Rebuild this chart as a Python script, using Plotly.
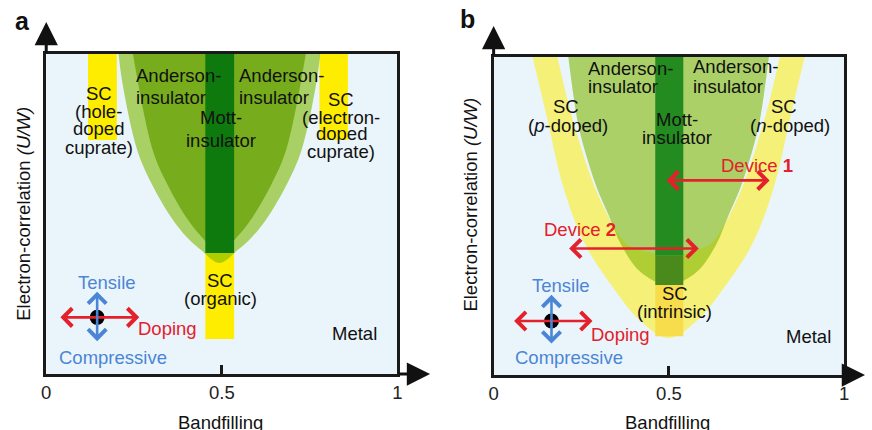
import plotly.graph_objects as go

# ---------------- panel a : bandfilling / U-W phase regions ----------------
a_center = 0.493
# outer (light green) and inner (green) Anderson-insulator dome: U/W level vs half width
a_outer_u = [1.0, 0.909, 0.70, 0.597, 0.491, 0.428, 0.388, 0.347]
a_outer_hw = [0.287, 0.276, 0.234, 0.194, 0.138, 0.093, 0.053, 0.0]
a_inner_u = [1.0, 0.70, 0.597, 0.491, 0.428, 0.378]
a_inner_hw = [0.246, 0.19, 0.15, 0.095, 0.05, 0.0]
# rectangular regions: bandfilling span, U/W span
a_mott_x, a_mott_u = [0.453, 0.535], [0.378, 1.0]
a_hole_x, a_hole_u = [0.119, 0.201], [0.731, 1.0]
a_elec_x, a_elec_u = [0.778, 0.859], [0.731, 1.0]
a_org_x, a_org_u = [0.453, 0.535], [0.109, 0.378]
# strain / doping indicator
a_dot = [0.145, 0.177]
a_doping_x, a_doping_u = [0.036, 0.265], 0.177
a_strain_x, a_strain_u = 0.145, [0.098, 0.257]

# ---------------- panel b ----------------
b_center = 0.499
b_yel_out_u = [1.0, 0.81, 0.59, 0.41, 0.27, 0.175, 0.116]
b_yel_out_hw = [0.388, 0.347, 0.30, 0.238, 0.155, 0.085, 0.0]
b_yel_in_u = [1.0, 0.81, 0.59, 0.46, 0.41, 0.39, 0.375]
b_yel_in_hw = [0.317, 0.275, 0.21, 0.152, 0.118, 0.07, 0.0]
b_green_u = [1.0, 0.80, 0.71, 0.59, 0.50, 0.409, 0.324, 0.283]
b_green_hw = [0.286, 0.26, 0.24, 0.205, 0.17, 0.135, 0.08, 0.0]
b_mott_x = [0.461, 0.541]
b_mott_u = [0.375, 1.0]
b_mott_low_u = [0.283, 0.375]
b_sc_u = [0.122, 0.283]
b_dev1_x, b_dev1_u = [0.489, 0.787], 0.612
b_dev2_x, b_dev2_u = [0.211, 0.585], 0.398
b_dot = [0.165, 0.170]
b_doping_x, b_doping_u = [0.054, 0.282], 0.170
b_strain_x, b_strain_u = 0.165, [0.094, 0.252]

tick_vals = [0, 0.5, 1]
tick_text = ["0", "0.5", "1"]

FONT = "Liberation Sans, Arial, sans-serif"
BG = "#EAF5FB"
RED = "#E3202B"
BLUE = "#4A85D6"
INK = "#111111"
FS = 18.5


def dome(center, u, hw):
    xs = [center - h for h in hw] + [center + h for h in reversed(hw[:-1])]
    ys = list(u) + list(reversed(u[:-1]))
    return xs, ys


def rect(xr, ur):
    return [xr[0], xr[1], xr[1], xr[0], xr[0]], [ur[0], ur[0], ur[1], ur[1], ur[0]]


fig = go.Figure()


def region(xs, ys, color, axis, smooth=False):
    fig.add_trace(go.Scatter(
        x=xs, y=ys, mode="lines", fill="toself", fillcolor=color,
        line=dict(width=0, color=color, shape="spline" if smooth else "linear"),
        hoverinfo="skip", xaxis="x" + axis, yaxis="y" + axis))


# panel a regions
region(*rect(a_hole_x, a_hole_u), "#FFED00", "")
region(*rect(a_elec_x, a_elec_u), "#FFED00", "")
region(*rect(a_org_x, a_org_u), "#FFED00", "")
region(*dome(a_center, a_outer_u, a_outer_hw), "rgba(124,183,0,0.6)", "", True)
region(*dome(a_center, a_inner_u, a_inner_hw), "#77AC1C", "", True)
region(*rect(a_mott_x, a_mott_u), "#0E7A0E", "")

# panel b regions
region(*dome(b_center, b_yel_out_u, b_yel_out_hw), "#F5F078", "2", True)
region(*dome(b_center, b_yel_in_u, b_yel_in_hw), BG, "2", True)
region(*rect(b_mott_x, b_sc_u), "#F7DC4C", "2")
region(*dome(b_center, b_green_u, b_green_hw), "rgba(129,183,6,0.6)", "2", True)
region(*rect(b_mott_x, b_mott_u), "#238B1F", "2")
region(*rect(b_mott_x, b_mott_low_u), "#4A8A1C", "2")

# strain indicator dots
for d, ax in ((a_dot, ""), (b_dot, "2")):
    fig.add_trace(go.Scatter(x=[d[0]], y=[d[1]], mode="markers",
                             marker=dict(size=15, color="black"), cliponaxis=False,
                             hoverinfo="skip", xaxis="x" + ax, yaxis="y" + ax))

ann = []


def label(lines, x, ys, axis, align="center", color=INK):
    for t, y in zip(lines, ys):
        ann.append(dict(text=t, x=x, y=y, xref="x" + axis, yref="y" + axis,
                        xanchor=align, yanchor="middle", showarrow=False,
                        font=dict(family=FONT, size=FS, color=color)))


def darrow(x0, y0, x1, y1, axis, color):
    ann.append(dict(text="", x=x1, y=y1, ax=x0, ay=y0,
                    xref="x" + axis, yref="y" + axis, axref="x" + axis, ayref="y" + axis,
                    showarrow=True, arrowside="end+start", arrowhead=4, startarrowhead=4,
                    arrowsize=1.35, startarrowsize=1.35, arrowwidth=2.6, arrowcolor=color))


# panel a text
label(["Anderson-", "insulator"], 0.249, [0.934, 0.8625], "", "left")
label(["Anderson-", "insulator"], 0.544, [0.934, 0.8625], "", "left")
label(["Mott-", "insulator"], 0.498, [0.80, 0.731], "")
label(["SC", "(hole-", "doped", "cuprate)"], 0.150, [0.878, 0.819, 0.766, 0.709], "")
label(["SC", "(electron-", "doped", "cuprate)"], 0.840, [0.859, 0.803, 0.750, 0.694], "")
label(["SC", "(organic)"], 0.496, [0.291, 0.2375], "")
label(["Metal"], 0.879, [0.128], "")
label(["Tensile"], 0.173, [0.2875], "", color=BLUE)
label(["Compressive"], 0.190, [0.053], "", color=BLUE)
label(["Doping"], 0.257, [0.141], "", "left", RED)
darrow(a_doping_x[0], a_doping_u, a_doping_x[1], a_doping_u, "", RED)
darrow(a_strain_x, a_strain_u[0], a_strain_x, a_strain_u[1], "", BLUE)

# panel b text
label(["Anderson-", "insulator"], 0.264, [0.965, 0.906], "2", "left")
label(["Anderson-", "insulator"], 0.563, [0.969, 0.907], "2", "left")
label(["SC"], 0.205, [0.844], "2")
label(["(<i>p</i>-doped)"], 0.211, [0.786], "2")
label(["Mott-", "insulator"], 0.524, [0.802, 0.746], "2")
label(["SC"], 0.827, [0.844], "2")
label(["(<i>n</i>-doped)"], 0.844, [0.786], "2")
label(["Device <b>1</b>"], 0.752, [0.660], "2", color=RED)
label(["Device <b>2</b>"], 0.247, [0.456], "2", color=RED)
label(["SC", "(intrinsic)"], 0.517, [0.257, 0.201], "2")
label(["Metal"], 0.899, [0.120], "2")
label(["Tensile"], 0.192, [0.283], "2", color=BLUE)
label(["Compressive"], 0.214, [0.054], "2", color=BLUE)
label(["Doping"], 0.271, [0.126], "2", "left", RED)
darrow(b_dev1_x[0], b_dev1_u, b_dev1_x[1], b_dev1_u, "2", RED)
darrow(b_dev2_x[0], b_dev2_u, b_dev2_x[1], b_dev2_u, "2", RED)
darrow(b_doping_x[0], b_doping_u, b_doping_x[1], b_doping_u, "2", RED)
darrow(b_strain_x, b_strain_u[0], b_strain_x, b_strain_u[1], "2", BLUE)

# subplot frames (paper fractions of the 872x430 canvas)
W, H = 872, 430
dom_a_x = [41.7 / W, 397 / W]
dom_a_y = [1 - 374 / H, 1 - 54 / H]
dom_b_x = [494.3 / W, 849 / W]
dom_b_y = [1 - 375 / H, 1 - 57 / H]

# axis arrows, panel titles and axis titles
for dx, dy, tip_y, tip_x, letter, lx, ly, tx, ty_title in (
        (dom_a_x, dom_a_y, 1 - 22 / H, 430 / W, "a", 18 / W, 1 - 21 / H, 19 / W, 1 - 214 / H),
        (dom_b_x, dom_b_y, 1 - 26 / H, 870 / W, "b", 468 / W, 1 - 19 / H, 471 / W, 1 - 205 / H)):
    ann.append(dict(text="", x=dx[0], y=tip_y, xref="paper", yref="paper",
                    ax=0, ay=(tip_y - dy[1]) * H, showarrow=True, arrowhead=2,
                    arrowsize=1.55, arrowwidth=3, arrowcolor="#111"))
    ann.append(dict(text="", x=tip_x, y=dy[0], xref="paper", yref="paper",
                    ax=-(tip_x - dx[1]) * W, ay=0, showarrow=True, arrowhead=2,
                    arrowsize=1.55, arrowwidth=3, arrowcolor="#111"))
    ann.append(dict(text="<b>%s</b>" % letter, x=lx, y=ly, xref="paper", yref="paper",
                    xanchor="center", yanchor="middle", showarrow=False,
                    font=dict(family=FONT, size=25, color="#111")))
    ann.append(dict(text="Electron-correlation <i>(U/W)</i>", x=tx, y=ty_title,
                    xref="paper", yref="paper", textangle=-90, showarrow=False,
                    xanchor="center", yanchor="middle",
                    font=dict(family=FONT, size=FS, color=INK)))
    ann.append(dict(text="Bandfilling", x=(dx[0] + dx[1]) / 2 - 1.5 / W, y=1 - 422 / H,
                    xref="paper", yref="paper", showarrow=False,
                    xanchor="center", yanchor="middle",
                    font=dict(family=FONT, size=FS, color=INK)))

xcommon = dict(range=[0, 1], showgrid=False, zeroline=False, showline=True, mirror=True,
               linewidth=3, linecolor="#1a1a1a", tickvals=tick_vals, ticktext=tick_text,
               ticks="inside", ticklen=9, tickwidth=3, tickcolor="#1a1a1a",
               ticklabelstandoff=0,
               tickfont=dict(family=FONT, size=FS, color="#222"), fixedrange=True)
ycommon = dict(range=[0, 1], showgrid=False, zeroline=False, showline=True, mirror=True,
               linewidth=3, linecolor="#1a1a1a", showticklabels=False, ticks="",
               fixedrange=True)

fig.update_layout(
    width=W, height=H, margin=dict(l=0, r=0, t=0, b=0),
    paper_bgcolor="white", plot_bgcolor=BG, showlegend=False, hovermode=False,
    xaxis=dict(domain=dom_a_x, anchor="y", **xcommon),
    yaxis=dict(domain=dom_a_y, anchor="x", **ycommon),
    xaxis2=dict(domain=dom_b_x, anchor="y2", **xcommon),
    yaxis2=dict(domain=dom_b_y, anchor="x2", **ycommon),
    annotations=ann,
)

fig.write_html("out.html")
